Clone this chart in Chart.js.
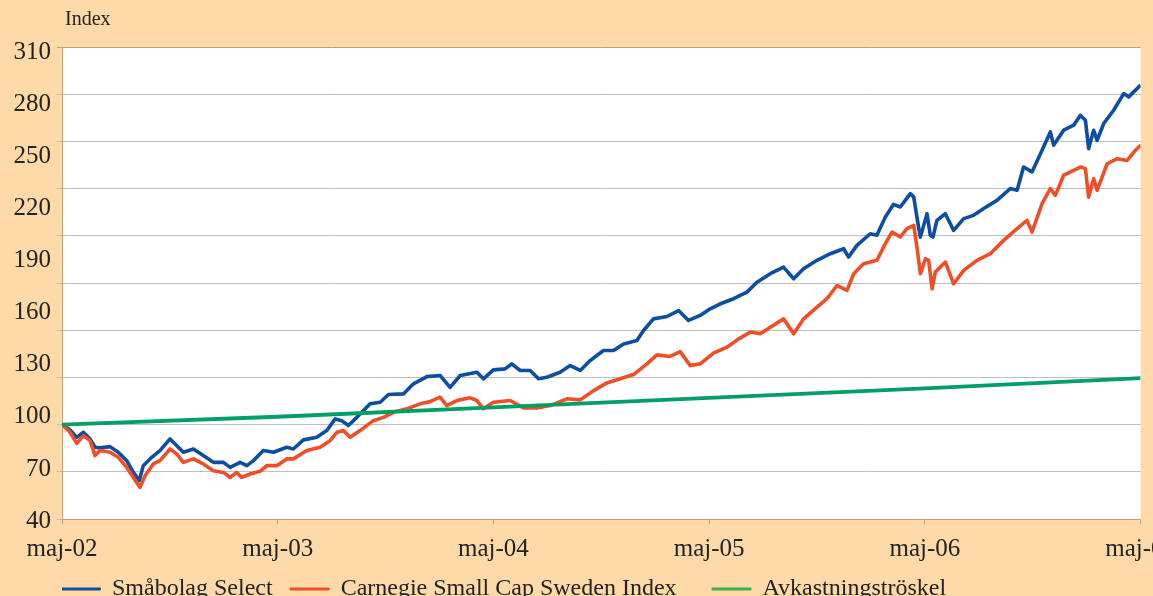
<!DOCTYPE html>
<html>
<head>
<meta charset="utf-8">
<script src="https://cdn.jsdelivr.net/npm/chart.js@4"></script>
<style>
    html, body { margin: 0; padding: 0; background: #FDDAA8; overflow: hidden; }
    #wrap { position: relative; width: 1186px; height: 611px; }
    #ytitle { position: absolute; left: 65px; top: 7px; font: 20px "Liberation Serif", serif; color: #222; }
</style>
</head>
<body>
<div id="wrap">
    <div id="ytitle">Index</div>
    <canvas id="chart" width="1186" height="611"></canvas>
</div>
<script>
// months after maj-02
var blueMonths = [0,0.45,0.82,1.19,1.56,1.84,2.11,2.67,3.13,3.6,3.97,4.3,4.52,4.99,5.45,6.01,6.29,6.75,7.31,7.86,8.42,8.98,9.35,9.91,10.28,10.65,11.2,11.76,12.5,12.87,13.43,14.17,14.73,15.19,15.56,15.93,16.4,17.14,17.7,18.16,18.99,19.55,20.3,21.03,21.59,22.15,23.08,23.44,24,24.65,25.02,25.49,26.04,26.51,26.97,27.71,28.27,28.83,29.38,30.12,30.68,31.24,31.98,32.35,32.9,33.65,34.3,34.85,35.5,36.06,36.62,37.36,38.1,38.66,39.4,40.14,40.7,41.25,42,42.74,43.48,43.76,44.22,44.96,45.33,45.8,46.26,46.63,46.91,47.19,47.38,47.65,47.75,48.12,48.3,48.45,48.67,49.14,49.6,50.16,50.71,51.27,52.01,52.75,53.13,53.49,53.96,54.52,54.98,55.16,55.72,56.28,56.65,56.93,57.11,57.39,57.58,57.95,58.5,59.06,59.34,60];
var blueValues = [100,96.6,91.9,95.1,90.9,85.6,85.2,86,82.4,77.1,69.6,64.4,73.9,79.2,83.5,90.9,87.7,82.4,84.5,80.3,76,76,72.8,76,73.9,77.1,83.5,82.4,85.6,84.5,90.3,91.9,96.2,103.6,102.5,99.4,104.6,113.2,114.2,119.1,119.5,125.9,130.5,131.2,123.7,131.2,133.3,129.1,134.8,135.4,138.6,134.4,134.4,129.1,130.1,133.3,137.5,134.4,140.7,147.1,147.1,151.3,153.4,159.8,167.2,168.7,172.5,166.2,169.4,173.6,176.8,180,184.2,190.5,195.9,200.1,192.7,199.1,204.4,208.6,211.8,206.5,213.9,221.3,220.3,231.9,240,238.3,242.5,246.8,244.6,225.5,219.2,234,220.3,219.2,229.8,234,223.4,230.9,233,237.3,242.5,250,248.9,263.7,260.6,274.4,286,277.6,287.1,290.3,296.6,293.4,275.4,287.1,280.7,291.4,299.8,310.4,308.3,315.8];

var redMonths = [0,0.45,0.82,1.19,1.56,1.84,2.11,2.67,3.13,3.6,3.97,4.34,4.62,5.08,5.45,6.01,6.38,6.75,7.31,7.86,8.42,8.98,9.35,9.72,10,10.46,11.02,11.39,11.95,12.5,12.87,13.62,14.36,14.91,15.29,15.65,16.03,16.58,17.32,17.88,18.44,19.18,19.92,20.48,21.03,21.41,21.96,22.7,23.08,23.44,24,24.93,25.67,26.42,27.16,28.09,28.83,29.57,30.31,31.05,31.79,32.54,33.09,33.83,34.39,34.95,35.5,36.24,36.99,37.64,38.29,38.84,39.4,40.14,40.7,41.25,42,42.55,43.11,43.67,44.04,44.59,45.33,45.8,46.17,46.63,47,47.38,47.56,47.75,48.03,48.21,48.4,48.58,49.14,49.6,50.16,50.9,51.64,52.38,53.13,53.68,53.96,54.52,54.98,55.26,55.72,56.28,56.65,56.93,57.11,57.39,57.58,58.14,58.7,59.25,59.72,60];
var redValues = [100,95.1,88.1,93,89.8,80.3,83.5,82.4,79.2,72.8,66.4,60.1,67.5,75,77.1,84.5,81.4,76,78.2,75,70.7,69.6,66.4,69.6,66.4,68.6,70.3,73.9,73.9,78.2,78.2,83.5,85.6,89.8,95.1,96.2,91.9,96.2,102.5,104.6,107.8,110,113.2,114.6,117.4,112.1,115.3,117,115.3,110,114.2,115.3,110.6,110.6,112.1,116.4,115.7,121.6,126.5,129.1,131.8,138.6,144.3,143.3,146.4,137.5,138.6,145.4,149.2,154.5,158.8,157.7,161.9,167.2,157.7,167.2,174.6,180,188.4,185.3,195.9,202.2,204.4,215,222.4,219.2,224.6,226.6,212.8,195.9,205.4,204.4,186.3,196.9,203.3,189.5,198,204.4,208.6,217.1,224.6,229.8,222.4,240.5,250,245.7,258.5,261.6,263.7,262.7,244.6,256.3,248.9,265.8,269,267.9,274.4,277.6];

var greenMonths = [0, 12, 24, 36, 48, 60];
var greenValues = [100, 105, 111, 117, 123, 129.5];

var seriesNames = ['Småbolag Select', 'Carnegie Small Cap Sweden Index', 'Avkastningströskel'];
var xTickLabels = ['maj-02', 'maj-03', 'maj-04', 'maj-05', 'maj-06', 'maj-07'];
var yTickLabels = [40, 70, 100, 130, 160, 190, 220, 250, 280, 310];

var lineColors = ['#0B4EA2', '#EF4E26', '#00A064'];
var legendColors = ['#0B4EA2', '#EF4E26', '#3DB04B'];
var legendGaps = ['   ', '      ', ''];
var tan = '#BFA07C';
var textColor = '#222222';
var fontFamily = '"Liberation Serif", "Times New Roman", serif';

function toPoints(xs, ys) {
    return xs.map(function(m, i) { return {x: m, y: ys[i]}; });
}

// white plot area on the peach page
var plotBg = {
    id: 'plotBg',
    beforeDraw: function(chart) {
        var a = chart.chartArea, ctx = chart.ctx;
        ctx.save();
        ctx.fillStyle = '#FFFFFF';
        ctx.fillRect(a.left, a.top, a.right - a.left, a.bottom - a.top);
        ctx.restore();
    }
};

var ctx = document.getElementById('chart');
new Chart(ctx, {
    type: 'line',
    data: {
        datasets: [
            {label: seriesNames[0], data: toPoints(blueMonths, blueValues), borderColor: lineColors[0], backgroundColor: lineColors[0], borderWidth: 3.6, order: 2},
            {label: seriesNames[1], data: toPoints(redMonths, redValues), borderColor: lineColors[1], backgroundColor: lineColors[1], borderWidth: 3.6, order: 1},
            {label: seriesNames[2], data: toPoints(greenMonths, greenValues), borderColor: lineColors[2], backgroundColor: lineColors[2], borderWidth: 3.8, order: 0}
        ]
    },
    options: {
        responsive: false,
        animation: false,
        elements: { point: { radius: 0 }, line: { tension: 0, borderJoinStyle: 'round' } },
        layout: { padding: { top: 47, left: 0, right: 0, bottom: 0 } },
        scales: {
            x: {
                type: 'linear', min: 0, max: 60,
                ticks: {
                    stepSize: 12, padding: 10, maxRotation: 0, autoSkip: false,
                    color: textColor, font: { family: fontFamily, size: 25 },
                    callback: function(v) { return xTickLabels[Math.round(v / 12)]; }
                },
                grid: { drawOnChartArea: false, tickLength: 5, color: tan },
                border: { color: tan },
                afterFit: function(s) { s.height = 58; }
            },
            // gridlines the lines are drawn against
            y: {
                position: 'left', weight: 0, min: 40, max: 340,
                ticks: { display: false, stepSize: 30 },
                grid: {
                    tickLength: 5,
                    color: function(c) { return c.tick && c.tick.value === 340 ? tan : '#BEBEBE'; }
                },
                border: { color: tan },
                afterFit: function(s) { s.width = 6; }
            },
            // the printed labels, spaced as in the picture
            yLabels: {
                position: 'left', weight: 1, min: 40, max: 312,
                afterBuildTicks: function(s) { s.ticks = yTickLabels.map(function(v) { return {value: v}; }); },
                ticks: { padding: 5, labelOffset: 2, color: textColor, font: { family: fontFamily, size: 25 } },
                grid: { display: false, drawTicks: false },
                border: { display: false },
                afterFit: function(s) { s.width = 56; }
            }
        },
        plugins: {
            legend: {
                position: 'bottom', align: 'start', fullSize: false,
                labels: {
                    boxWidth: 38, boxHeight: 1, padding: 0,
                    color: textColor, font: { family: fontFamily, size: 24 },
                    sort: function(a, b) { return a.datasetIndex - b.datasetIndex; },
                    generateLabels: function(chart) {
                        var items = Chart.defaults.plugins.legend.labels.generateLabels(chart);
                        items.forEach(function(it) {
                            it.fillStyle = legendColors[it.datasetIndex];
                            it.strokeStyle = legendColors[it.datasetIndex];
                            it.lineWidth = 2;
                            // gap before the next entry
                            it.text = it.text + legendGaps[it.datasetIndex];
                        });
                        return items;
                    }
                }
            },
            tooltip: { enabled: false }
        }
    },
    plugins: [plotBg]
});
</script>
</body>
</html>
